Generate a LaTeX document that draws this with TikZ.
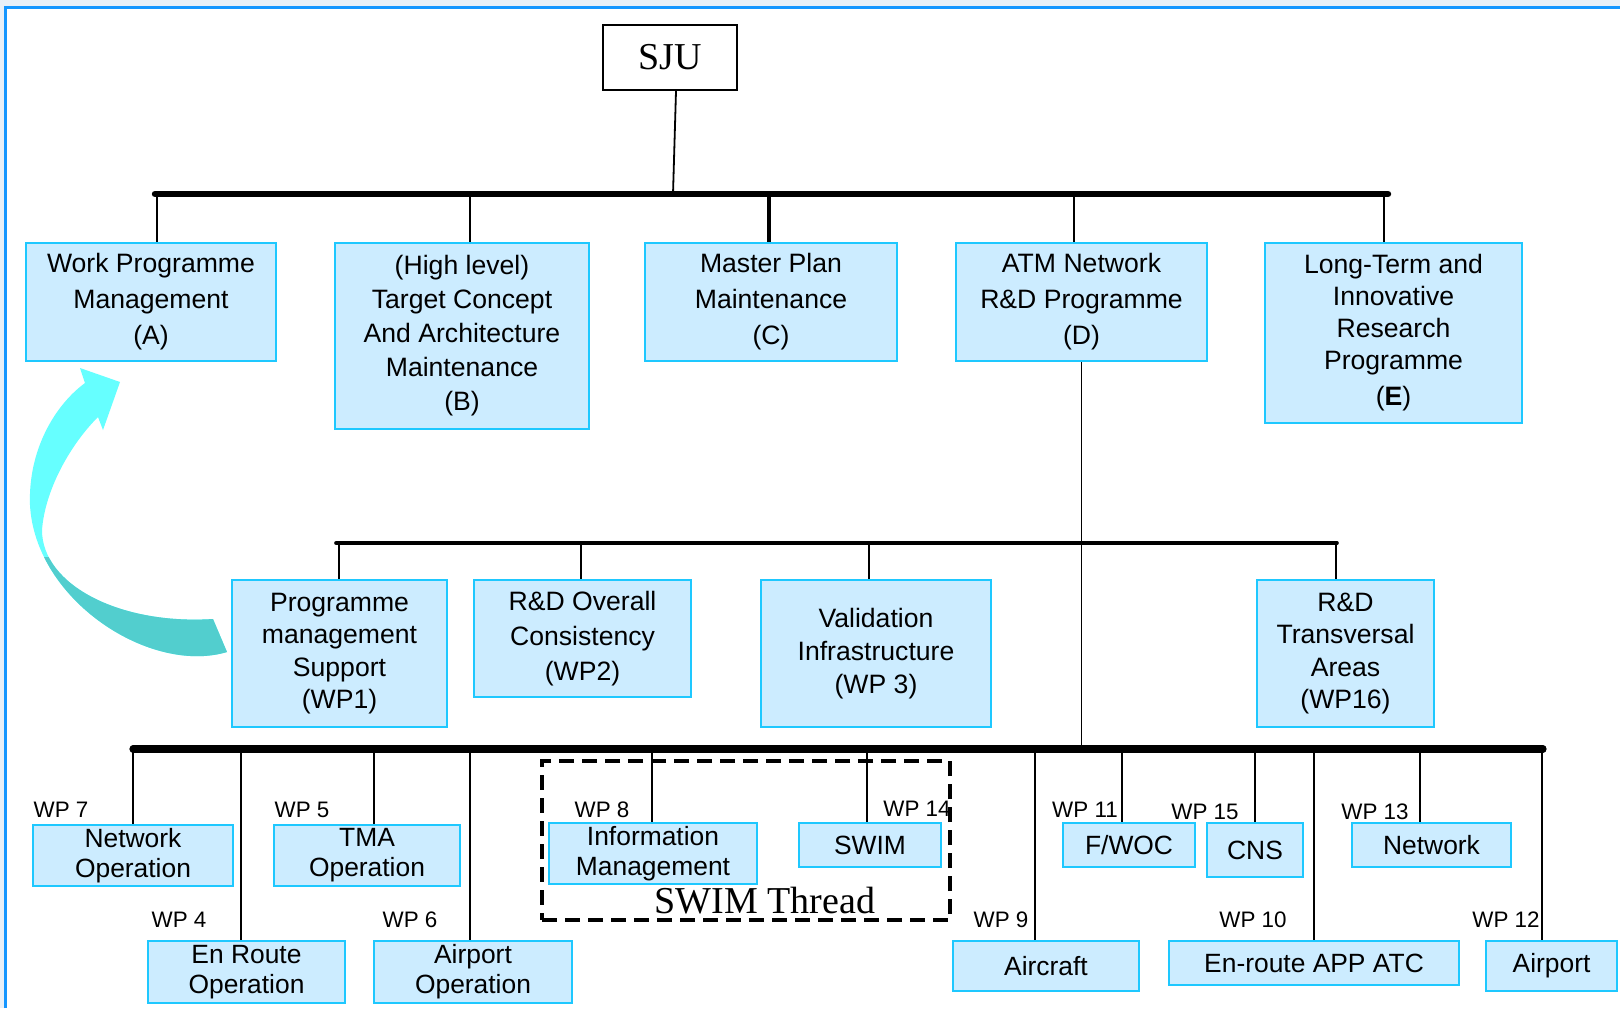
\documentclass[tikz,border=0pt]{standalone}
\usepackage{fontspec}
\setmainfont{Liberation Sans}
\newfontfamily\serifx{Liberation Serif}
\usetikzlibrary{calc}
\definecolor{boxfill}{RGB}{204,236,255}
\definecolor{boxline}{RGB}{30,200,255}
\definecolor{framec}{RGB}{20,150,255}
\definecolor{outside}{RGB}{232,240,248}
\definecolor{arrowtop}{RGB}{102,255,255}
\definecolor{arrowbot}{RGB}{82,206,206}
\begin{document}
\begin{tikzpicture}[x=0.5pt,y=-0.5pt,
  box/.style={draw=boxline, fill=boxfill, line width=1.2pt, inner sep=0pt, align=center, font=\fontsize{13.3}{17}\selectfont},
  midbox/.style={box, font=\fontsize{13.3}{16.3}\selectfont},
  lowbox/.style={box, font=\fontsize{13.2}{15}\selectfont},
  wplab/.style={inner sep=0pt, font=\fontsize{11.2}{13}\selectfont},
  conn/.style={line width=0.9pt},
  bus/.style={line width=3.2pt, line cap=round},
]
\useasboundingbox (0,0) rectangle (1620,1008);
\fill[outside] (0,0) rectangle (1620,1008);
\fill[white] (5,7) rectangle (1620,1008);
\draw[framec, line width=1.5pt] (5,1008) -- (5,7) -- (1620,7);

% curved cyan arrow
\fill[arrowtop] (227,652) .. controls (150,675) and (35,600) .. (30,505)
  .. controls (28,450) and (55,405) .. (85,383) -- (80,368) -- (120,382) -- (103,430) -- (98,417)
  .. controls (70,445) and (45,490) .. (42,530) .. controls (42,585) and (120,625) .. (213,619) -- cycle;
\begin{scope}
\clip (0,557) rectangle (300,700);
\fill[arrowbot] (227,652) .. controls (150,675) and (35,600) .. (30,505)
  .. controls (28,450) and (55,405) .. (85,383) -- (80,368) -- (120,382) -- (103,430) -- (98,417)
  .. controls (70,445) and (45,490) .. (42,530) .. controls (42,585) and (120,625) .. (213,619) -- cycle;
\end{scope}

% SJU
\node[draw, line width=1pt, minimum width=67pt, minimum height=32.5pt, inner sep=0pt,
  font=\serifx\fontsize{19}{20}\selectfont] (sju) at (670,57.5) {SJU};

% level 1 boxes
\node[box, minimum width=125pt, minimum height=59pt, font=\fontsize{13.3}{18}\selectfont] (A) at (151,302) {Work Programme\\Management\\(A)};
\node[box, minimum width=127pt, minimum height=93pt] (B) at (462,336) {(High level)\\Target Concept\\And Architecture\\Maintenance\\(B)};
\node[box, minimum width=126pt, minimum height=59pt, font=\fontsize{13.3}{18}\selectfont] (C) at (771,302) {Master Plan\\Maintenance\\(C)};
\node[box, minimum width=125.5pt, minimum height=59pt, font=\fontsize{13.3}{18}\selectfont] (D) at (1081.5,302) {ATM Network\\R\&D Programme\\(D)};
\node[box, minimum width=128.5pt, minimum height=90pt, font=\fontsize{13.3}{16}\selectfont] (E) at (1393.5,333) {Long-Term and\\Innovative\\Research\\Programme\\[2pt](\textbf{E})};

% top bus
\coordinate (tb1) at (155,194);
\coordinate (tb2) at (1388,194);
\coordinate (sjuD) at (673,194);
\draw[conn] ($(sju.south)+(6,0)$) -- (sjuD);
\coordinate (dA) at (157,194);
\coordinate (dB) at (470,194);
\coordinate (dC) at (769,194);
\coordinate (dD) at (1074,194);
\coordinate (dE) at (1384,194);
\draw[conn] (dA) -- (dA |- A.north);
\draw[conn] (dB) -- (dB |- B.north);
\draw[line width=1.6pt] (dC) -- (dC |- C.north);
\draw[conn] (dD) -- (dD |- D.north);
\draw[conn] (dE) -- (dE |- E.north);
\draw[bus] (tb1) -- (tb2);

% level 2
\node[midbox, minimum width=107.5pt, minimum height=73.5pt] (wp1) at (339.5,653.5) {Programme\\management\\Support\\(WP1)};
\node[midbox, minimum width=108.5pt, minimum height=58.5pt, font=\fontsize{13.3}{17.5}\selectfont] (wp2) at (582.5,638.5) {R\&D Overall\\Consistency\\(WP2)};
\node[midbox, minimum width=115pt, minimum height=73.5pt] (wp3) at (876,653.5) {Validation\\Infrastructure\\(WP 3)};
\node[midbox, minimum width=88.5pt, minimum height=73.5pt] (wp16) at (1345.5,653.5) {R\&D\\Transversal\\Areas\\(WP16)};

\coordinate (mb1) at (336,543);
\coordinate (mb2) at (1337,543);
\coordinate (bb1) at (133,749);
\coordinate (bb2) at (1543,749);
\draw[conn] (D.south) -- (D.south |- bb1);
\coordinate (m1) at (339,543);
\coordinate (m2) at (581,543);
\coordinate (m3) at (869,543);
\coordinate (m16) at (1336,543);
\draw[conn] (m1) -- (m1 |- wp1.north);
\draw[conn] (m2) -- (m2 |- wp2.north);
\draw[conn] (m3) -- (m3 |- wp3.north);
\draw[conn] (m16) -- (m16 |- wp16.north);
\draw[line width=1.8pt, line cap=round] (mb1) -- (mb2);

% SWIM thread box
\node[draw, line width=2pt, dash pattern=on 7.5pt off 4pt, minimum width=204pt, minimum height=79.5pt, inner sep=0pt] (swimbox) at (746,840.5) {};
\node[anchor=base, inner sep=0pt, font=\serifx\fontsize{19}{20}\selectfont] (swimthread) at (765,913) {SWIM Thread};

% level 3 boxes
\node[lowbox, minimum width=100pt, minimum height=30.5pt] (n7) at (133,855.5) {Network\\Operation};
\node[lowbox, minimum width=93pt, minimum height=30.5pt] (n5) at (367,855.5) {TMA\\Operation};
\node[lowbox, minimum width=98.5pt, minimum height=31pt] (n4) at (246.5,972) {En Route\\Operation};
\node[lowbox, minimum width=99pt, minimum height=31pt] (n6) at (473,972) {Airport\\Operation};
\node[lowbox, minimum width=104pt, minimum height=30.5pt] (n8) at (653,853.5) {Information\\Management};
\node[lowbox, minimum width=71pt, minimum height=22pt] (n14) at (870,845) {SWIM};
\node[lowbox, minimum width=66pt, minimum height=22pt] (n11) at (1129,845) {F/WOC};
\node[lowbox, minimum width=48pt, minimum height=27pt] (n15) at (1255,850) {CNS};
\node[lowbox, minimum width=79.5pt, minimum height=22pt] (n13) at (1431.5,845) {Network};
\node[lowbox, minimum width=93pt, minimum height=25pt] (n9) at (1046,966) {Aircraft};
\node[lowbox, minimum width=145pt, minimum height=22pt] (n10) at (1314,963) {En-route APP ATC};
\node[lowbox, minimum width=65.5pt, minimum height=25pt] (n12) at (1551.5,966) {Airport};

% drops from bottom bus
\coordinate (b7) at (133,749);
\coordinate (b4) at (241,749);
\coordinate (b5) at (374,749);
\coordinate (b6) at (470,749);
\coordinate (b8) at (652,749);
\coordinate (b14) at (867,749);
\coordinate (b9) at (1035,749);
\coordinate (b11) at (1122,749);
\coordinate (b15) at (1255,749);
\coordinate (b10) at (1314,749);
\coordinate (b13) at (1420,749);
\coordinate (b12) at (1542,749);
\draw[conn] (b7) -- (b7 |- n7.north);
\draw[conn] (b4) -- (b4 |- n4.north);
\draw[conn] (b5) -- (b5 |- n5.north);
\draw[conn] (b6) -- (b6 |- n6.north);
\draw[conn] (b8) -- (b8 |- n8.north);
\draw[conn] (b14) -- (b14 |- n14.north);
\draw[conn] (b9) -- (b9 |- n9.north);
\draw[conn] (b11) -- (b11 |- n11.north);
\draw[conn] (b15) -- (b15 |- n15.north);
\draw[conn] (b10) -- (b10 |- n10.north);
\draw[conn] (b13) -- (b13 |- n13.north);
\draw[conn] (b12) -- (b12 |- n12.north);
\draw[line width=3.6pt, line cap=round] (bb1) -- (bb2);

% WP labels
\node[wplab] (l7) at (61,810) {WP 7};
\node[wplab] (l5) at (302,810) {WP 5};
\node[wplab] (l4) at (179,920) {WP 4};
\node[wplab] (l6) at (410,920) {WP 6};
\node[wplab] (l8) at (602,810) {WP 8};
\node[wplab] (l14) at (917,809) {WP 14};
\node[wplab] (l11) at (1085,810) {WP 11};
\node[wplab] (l15) at (1205,812) {WP 15};
\node[wplab] (l13) at (1375,812) {WP 13};
\node[wplab] (l9) at (1001,920) {WP 9};
\node[wplab] (l10) at (1253,920) {WP 10};
\node[wplab] (l12) at (1506,920) {WP 12};
\end{tikzpicture}
\end{document}
